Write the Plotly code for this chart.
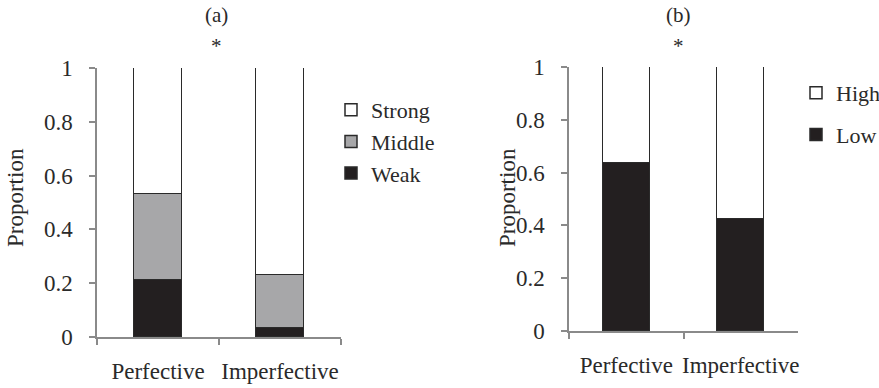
import plotly.graph_objects as go

categories = ["Perfective", "Imperfective"]
weak = [0.212, 0.033]
middle = [0.318, 0.197]
strong = [0.47, 0.77]
low = [0.636, 0.424]
high = [0.364, 0.576]
y_ticks = [0, 0.2, 0.4, 0.6, 0.8, 1]
y_ticktext = ["0", "0.2", "0.4", "0.6", "0.8", "1"]

FONT = "Liberation Serif, Times New Roman, serif"
TXT = "#2a2a2a"
W, H = 879, 388

def px(x):
    return x / W

def py(y):
    return 1 - y / H

fig = go.Figure()
line = dict(color="#2a2a2a", width=1.5)
fig.add_trace(go.Bar(x=categories, y=weak, name="Weak", marker=dict(color="#231f20", line=line),
                     width=0.4, xaxis="x", yaxis="y", legend="legend"))
fig.add_trace(go.Bar(x=categories, y=middle, name="Middle", marker=dict(color="#a7a7a9", line=line),
                     width=0.4, xaxis="x", yaxis="y", legend="legend"))
fig.add_trace(go.Bar(x=categories, y=strong, name="Strong", marker=dict(color="#ffffff", line=line),
                     width=0.4, xaxis="x", yaxis="y", legend="legend"))
fig.add_trace(go.Bar(x=categories, y=low, name="Low", marker=dict(color="#231f20", line=line),
                     width=0.41, xaxis="x2", yaxis="y2", legend="legend2", legendgroup="low",
                     legendrank=2))
fig.add_trace(go.Bar(x=categories, y=high, name="High", marker=dict(color="#ffffff", line=line),
                     width=0.41, xaxis="x2", yaxis="y2", legend="legend2", legendgroup="high",
                     legendrank=1))

axis_common = dict(showgrid=False, zeroline=False, showline=True, linecolor="#8a8a8a", linewidth=1.5,
                   ticks="outside", tickcolor="#8a8a8a", ticklen=6, tickwidth=1.5, automargin=False,
                   tickfont=dict(family=FONT, size=23, color=TXT))

fig.update_layout(
    width=W, height=H, margin=dict(l=0, r=0, t=0, b=0, autoexpand=False),
    paper_bgcolor="white", plot_bgcolor="white", barmode="stack", bargap=0,
    xaxis=dict(domain=[px(97), px(341)], anchor="y", type="category", range=[-0.5, 1.5], tickangle=0,
               tickson="boundaries", ticklabelstandoff=13, **axis_common),
    yaxis=dict(domain=[py(337), py(68)], anchor="x", range=[0, 1], tickvals=y_ticks, ticktext=y_ticktext,
               ticklabelstandoff=12, **axis_common),
    xaxis2=dict(domain=[px(569), px(798)], anchor="y2", type="category", range=[-0.5, 1.5], tickangle=0,
                tickson="boundaries", ticklabelstandoff=13, **axis_common),
    yaxis2=dict(domain=[py(331), py(67)], anchor="x2", range=[0, 1], tickvals=y_ticks, ticktext=y_ticktext,
                ticklabelstandoff=12, **axis_common),
    legend=dict(x=px(331), y=py(89), xanchor="left", yanchor="top", traceorder="reversed",
                font=dict(family=FONT, size=22, color=TXT), itemwidth=30, bgcolor="rgba(0,0,0,0)",
                tracegroupgap=0),
    legend2=dict(x=px(796), y=py(72), xanchor="left", yanchor="top", traceorder="grouped",
                 font=dict(family=FONT, size=22, color=TXT), itemwidth=30, bgcolor="rgba(0,0,0,0)",
                 tracegroupgap=10),
    showlegend=True,
)

annos = [
    dict(text="(a)", x=px(216), y=py(15)),
    dict(text="*", x=px(216), y=py(46)),
    dict(text="(b)", x=px(678), y=py(15)),
    dict(text="*", x=px(678), y=py(46)),
]
for a in annos:
    fig.add_annotation(text=a["text"], x=a["x"], y=a["y"], xref="paper", yref="paper",
                       showarrow=False, xanchor="center", yanchor="middle",
                       font=dict(family=FONT, size=21, color=TXT))
for xc in (15, 507):
    fig.add_annotation(text="Proportion", x=px(xc), y=py(198), xref="paper", yref="paper",
                       showarrow=False, xanchor="center", yanchor="middle", textangle=-90,
                       font=dict(family=FONT, size=23, color=TXT))

fig.write_html("out.html", config={"displayModeBar": False},
               post_script="document.body.style.margin='0';document.body.style.overflow='hidden';")
